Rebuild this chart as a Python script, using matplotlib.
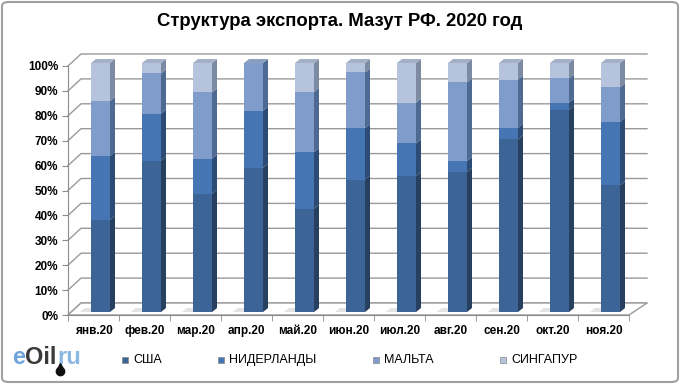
import matplotlib
matplotlib.use('Agg')
import matplotlib.pyplot as plt
from matplotlib.patches import Polygon, FancyBboxPatch, Rectangle
from matplotlib.lines import Line2D
import numpy as np

months = ['янв.20', 'фев.20', 'мар.20', 'апр.20', 'май.20', 'июн.20',
          'июл.20', 'авг.20', 'сен.20', 'окт.20', 'ноя.20']
usa = [37.0, 60.8, 47.5, 57.9, 41.5, 53.2, 54.5, 56.3, 69.3, 81.2, 50.9]
netherlands = [25.6, 18.9, 14.1, 22.9, 22.7, 20.6, 13.2, 4.3, 4.7, 2.9, 25.5]
malta = [22.2, 16.1, 26.6, 19.2, 24.2, 22.4, 16.4, 31.6, 19.3, 9.7, 13.8]
singapore = [15.2, 4.2, 11.8, 0.0, 11.6, 3.8, 15.9, 7.8, 6.7, 6.2, 9.8]
names = ['США', 'НИДЕРЛАНДЫ', 'МАЛЬТА', 'СИНГАПУР']

# front / side / top colours per series
front = ['#3D6496', '#4576B3', '#7F9CCB', '#B5C3DD']
side = ['#27405F', '#2D4C75', '#4F6A92', '#7C8AA2']
top = ['#52729C', '#5A80B4', '#8A9EBF', '#A3B0C6']

plt.rcParams['font.family'] = ['Liberation Sans', 'DejaVu Sans']

W, H = 680, 384
fig = plt.figure(figsize=(W / 100, H / 100), dpi=100)
ax = fig.add_axes([68 / W, (H - 315) / H, 561 / W, 249 / H])
ax.set_xlim(-0.5, 10.5)
ax.set_ylim(0, 100)

px_x = 561 / 11.0     # pixels per category
px_y = 249 / 100.0    # pixels per percent

# walls
wdx, wdy = 13 / px_x, 12 / px_y
wdx_r = 18 / px_x
grid_c = '#9A9A9A'
for v in range(0, 101, 10):
    ax.plot([-0.5, -0.5 + wdx, 10.5 + wdx_r], [v, v + wdy, v + wdy],
            color=grid_c, lw=1.0, clip_on=False, zorder=1)
floor = Polygon([(-0.5, 0), (10.5, 0), (10.5 + wdx_r, wdy), (-0.5 + wdx, wdy)],
                closed=True, facecolor='white', edgecolor=grid_c, lw=1.0,
                clip_on=False, zorder=1.5)
ax.add_patch(floor)

# bars
bw = 19 / px_x
bdx, bdy = 5 / px_x, 4 / px_y
ox, oy = 7 / px_x, 3 / px_y
series = [usa, netherlands, malta, singapore]
for i in range(len(months)):
    xl = i - bw / 2 + ox
    xr = xl + bw
    # shadow on floor
    ax.add_patch(Polygon([(xl - 0.22, oy), (xr, oy), (xr + bdx, oy + bdy), (xl - 0.12, oy + bdy)],
                         closed=True, facecolor='#D8D8D8', edgecolor='none',
                         clip_on=False, zorder=2, alpha=0.7))
    base = oy
    last = 0
    for k, s in enumerate(series):
        h = s[i]
        if h <= 0:
            continue
        ax.add_patch(Rectangle((xl, base), bw, h, facecolor=front[k], edgecolor='none',
                               clip_on=False, zorder=3))
        ax.add_patch(Polygon([(xr, base), (xr, base + h), (xr + bdx, base + h + bdy),
                              (xr + bdx, base + bdy)], closed=True, facecolor=side[k],
                             edgecolor='none', clip_on=False, zorder=3))
        base += h
        last = k
    ax.add_patch(Polygon([(xl, base), (xr, base), (xr + bdx, base + bdy), (xl + bdx, base + bdy)],
                         closed=True, facecolor=top[last], edgecolor='none',
                         clip_on=False, zorder=3))

# axes styling
for sp in ['top', 'right']:
    ax.spines[sp].set_visible(False)
for sp in ['left', 'bottom']:
    ax.spines[sp].set_color('#8C8C8C')
ax.set_facecolor('none')
ax.set_yticks(range(0, 101, 10))
ax.set_yticklabels([f'{v}%' for v in range(0, 101, 10)], fontsize=8.5, fontweight='bold')
ax.set_xticks(range(len(months)))
ax.set_xticklabels(months, fontsize=8.5, fontweight='bold')
ax.set_xticks(np.arange(-0.5, 11, 1), minor=True)
ax.tick_params(axis='x', which='major', length=0, pad=7)
ax.tick_params(axis='x', which='minor', length=4, color='#8C8C8C')
ax.tick_params(axis='y', length=4, color='#8C8C8C', pad=3)

# title
fig.text(0.5, (H - 22) / H, 'Структура экспорта. Мазут РФ. 2020 год', ha='center', va='center',
         fontsize=13.3, fontweight='bold')

# legend
leg_x = [122, 218, 373, 500]
for k, name in enumerate(names):
    fig.patches.append(Rectangle((leg_x[k] / W, (H - 363) / H), 6 / W, 6 / H,
                                 transform=fig.transFigure, facecolor=front[k],
                                 edgecolor='#888888', lw=0.5))
    fig.text((leg_x[k] + 11) / W, (H - 360) / H, name, ha='left', va='center', fontsize=9,
             family=['Liberation Sans Narrow', 'Liberation Sans', 'DejaVu Sans'])

# logo
t1 = fig.text(12 / W, (H - 357) / H, 'e', color='#6FA5DA', fontsize=17, va='center',
              fontweight='bold')
t2 = ax.annotate('Oil', xy=(1, 0.5), xycoords=t1, va='center', ha='left',
                 color='#3A3A3A', fontsize=17, fontweight='bold', annotation_clip=False)
t3 = ax.annotate('ru', xy=(1, 0.5), xycoords=t2, xytext=(0.5, 0), textcoords='offset points',
                 va='center', ha='left', color='#8BB8E2', fontsize=17, fontweight='bold',
                 annotation_clip=False)
fig.add_artist(Line2D([60 / W], [(H - 371) / H], marker='o', markersize=6, color='#111111',
                      transform=fig.transFigure))
fig.add_artist(Line2D([60 / W], [(H - 366) / H], marker='^', markersize=4, color='#111111',
                      transform=fig.transFigure))

# outer frame
fig.patches.append(FancyBboxPatch((2 / W, 2 / H), 1 - 4 / W, 1 - 4 / H,
                                  boxstyle='round,pad=0,rounding_size=0.01',
                                  transform=fig.transFigure, facecolor='none',
                                  edgecolor='#A0A0A0', lw=1.5))

fig.savefig('out.png', dpi=100)
